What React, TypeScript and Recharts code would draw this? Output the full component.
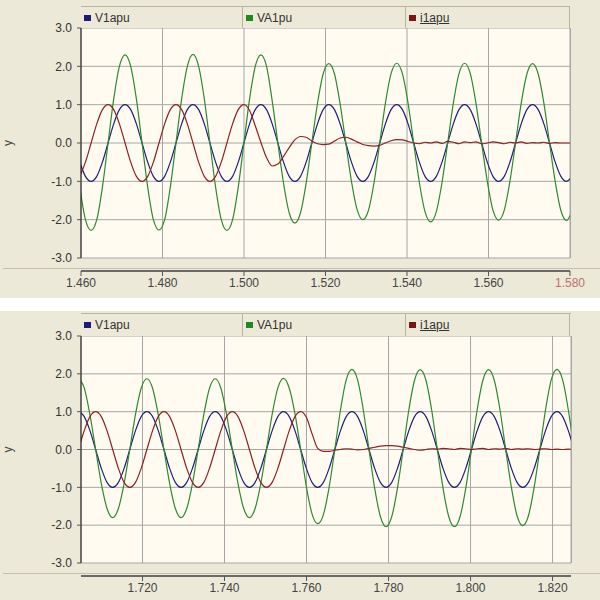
import React from 'react';
import { LineChart, Line, XAxis, YAxis, CartesianGrid, Legend } from 'recharts';

// series shown in both panels
const seriesNames = ['V1apu', 'VA1pu', 'i1apu'];
const seriesColors = ['#1f1f7a', '#2f8a2f', '#8c2222'];
const legendColors = ['#1c1c78', '#1f8a1f', '#7d1414'];
const yTicks = [-3, -2, -1, 0, 1, 2, 3];

// ---- upper panel, time in s ----
const topTicks = [1.46, 1.48, 1.5, 1.52, 1.54, 1.56, 1.58];
const topTime = [
  1.4597, 1.46109, 1.46248, 1.46387, 1.46526, 1.46664, 1.46803, 1.46942, 1.47081, 1.4722, 1.47359, 1.47498,
  1.47637, 1.47776, 1.47914, 1.48053, 1.48192, 1.48331, 1.4847, 1.48609, 1.48748, 1.48887, 1.49026, 1.49164,
  1.49303, 1.49442, 1.49581, 1.4972, 1.49859, 1.49998, 1.50137, 1.50276, 1.50414, 1.50553, 1.50692, 1.50831,
  1.5097, 1.51109, 1.51248, 1.51387, 1.51526, 1.51664, 1.51803, 1.51942, 1.52081, 1.5222, 1.52359, 1.52498,
  1.52637, 1.52776, 1.52914, 1.53053, 1.53192, 1.53331, 1.5347, 1.53609, 1.53748, 1.53887, 1.54026, 1.54164,
  1.54303, 1.54442, 1.54581, 1.5472, 1.54859, 1.54998, 1.55137, 1.55276, 1.55414, 1.55553, 1.55692, 1.55831,
  1.5597, 1.56109, 1.56248, 1.56387, 1.56526, 1.56664, 1.56803, 1.56942, 1.57081, 1.5722, 1.57359, 1.57498,
  1.57637, 1.57776, 1.57914, 1.58053,
];
const topV1 = [
  -0.5, -0.87, -1, -0.87, -0.5, 0, 0.5, 0.87, 1, 0.87, 0.5, 0,
  -0.5, -0.87, -1, -0.87, -0.5, 0, 0.5, 0.87, 1, 0.87, 0.5, 0,
  -0.5, -0.87, -1, -0.87, -0.5, 0, 0.5, 0.87, 1, 0.87, 0.5, 0,
  -0.5, -0.87, -1, -0.87, -0.5, 0, 0.5, 0.87, 1, 0.87, 0.5, 0,
  -0.5, -0.87, -1, -0.87, -0.5, 0, 0.5, 0.87, 1, 0.87, 0.5, 0,
  -0.5, -0.87, -1, -0.87, -0.5, 0, 0.5, 0.87, 1, 0.87, 0.5, 0,
  -0.5, -0.87, -1, -0.87, -0.5, 0, 0.5, 0.87, 1, 0.87, 0.5, 0,
  -0.5, -0.87, -1, -0.87,
];
const topVA1 = [
  -1.15, -2.0, -2.28, -2.0, -1.15, 0, 1.15, 2.0, 2.3, 2.0, 1.15, 0,
  -1.15, -2.0, -2.27, -2.0, -1.15, 0, 1.15, 2.0, 2.31, 2.0, 1.15, 0,
  -1.15, -2.0, -2.28, -2.0, -1.15, 0, 1.15, 2.0, 2.3, 2.0, 1.1, 0,
  -1.05, -1.82, -2.09, -1.82, -1.04, 0, 1.03, 1.8, 2.07, 1.8, 1.02, 0,
  -1.0, -1.74, -2.0, -1.76, -1.03, 0, 1.04, 1.81, 2.08, 1.81, 1.04, 0,
  -1.03, -1.79, -2.06, -1.79, -1.03, 0, 1.04, 1.81, 2.08, 1.81, 1.04, 0,
  -1.0, -1.75, -2.01, -1.75, -1.0, 0, 1.04, 1.8, 2.07, 1.8, 1.04, 0,
  -1.01, -1.76, -2.02, -1.76,
];
const topI1 = [
  -0.87, -0.5, 0, 0.5, 0.87, 1, 0.87, 0.5, 0, -0.5, -0.87, -1,
  -0.87, -0.5, 0, 0.5, 0.87, 1, 0.87, 0.5, 0, -0.5, -0.87, -1,
  -0.87, -0.5, 0, 0.5, 0.87, 1, 0.85, 0.45, 0.02, -0.38, -0.6, -0.55,
  -0.35, -0.12, 0.08, 0.17, 0.15, 0.05, -0.02, -0.04, -0.03, 0.05, 0.13, 0.15,
  0.1, 0.03, -0.04, -0.07, -0.08, -0.06, 0.0, 0.06, 0.09, 0.08, 0.04, 0.0,
  -0.02, 0.02, 0.0, 0.03, -0.01, 0.04, 0.02, -0.02, 0.03, 0.01, 0.03, -0.02,
  0.0, 0.03, 0.01, -0.02, 0.02, 0.0, 0.03, -0.01, 0.01, 0.0, 0.02, -0.01,
  0.01, 0.0, 0.0, 0.0,
];

// ---- lower panel ----
const bottomTicks = [1.72, 1.74, 1.76, 1.78, 1.8, 1.82];
const bottomTime = [
  1.7044, 1.70579, 1.70718, 1.70857, 1.70996, 1.71134, 1.71273, 1.71412, 1.71551, 1.7169, 1.71829, 1.71968,
  1.72107, 1.72246, 1.72384, 1.72523, 1.72662, 1.72801, 1.7294, 1.73079, 1.73218, 1.73357, 1.73496, 1.73634,
  1.73773, 1.73912, 1.74051, 1.7419, 1.74329, 1.74468, 1.74607, 1.74746, 1.74884, 1.75023, 1.75162, 1.75301,
  1.7544, 1.75579, 1.75718, 1.75857, 1.75996, 1.76134, 1.76273, 1.76412, 1.76551, 1.7669, 1.76829, 1.76968,
  1.77107, 1.77246, 1.77384, 1.77523, 1.77662, 1.77801, 1.7794, 1.78079, 1.78218, 1.78357, 1.78496, 1.78634,
  1.78773, 1.78912, 1.79051, 1.7919, 1.79329, 1.79468, 1.79607, 1.79746, 1.79884, 1.80023, 1.80162, 1.80301,
  1.8044, 1.80579, 1.80718, 1.80857, 1.80996, 1.81134, 1.81273, 1.81412, 1.81551, 1.8169, 1.81829, 1.81968,
  1.82107, 1.82246, 1.82384, 1.82523,
];
const bottomV1 = [
  1, 0.87, 0.5, 0, -0.5, -0.87, -1, -0.87, -0.5, 0, 0.5, 0.87,
  1, 0.87, 0.5, 0, -0.5, -0.87, -1, -0.87, -0.5, 0, 0.5, 0.87,
  1, 0.87, 0.5, 0, -0.5, -0.87, -1, -0.87, -0.5, 0, 0.5, 0.87,
  1, 0.87, 0.5, 0, -0.5, -0.87, -1, -0.87, -0.5, 0, 0.5, 0.87,
  1, 0.87, 0.5, 0, -0.5, -0.87, -1, -0.87, -0.5, 0, 0.5, 0.87,
  1, 0.87, 0.5, 0, -0.5, -0.87, -1, -0.87, -0.5, 0, 0.5, 0.87,
  1, 0.87, 0.5, 0, -0.5, -0.87, -1, -0.87, -0.5, 0, 0.5, 0.87,
  1, 0.87, 0.5, 0,
];
const bottomVA1 = [
  1.88, 1.63, 0.92, 0, -0.9, -1.56, -1.8, -1.56, -0.9, 0, 0.93, 1.62,
  1.87, 1.62, 0.92, 0, -0.9, -1.56, -1.8, -1.56, -0.9, 0, 0.93, 1.62,
  1.87, 1.62, 0.92, 0, -0.9, -1.56, -1.8, -1.56, -0.9, 0, 0.93, 1.63,
  1.88, 1.62, 0.95, 0, -0.98, -1.7, -1.96, -1.72, -1.0, 0, 1.05, 1.84,
  2.12, 1.84, 1.05, 0, -1.02, -1.77, -2.04, -1.77, -1.02, 0, 1.05, 1.83,
  2.11, 1.83, 1.05, 0, -1.02, -1.77, -2.04, -1.77, -1.02, 0, 1.05, 1.83,
  2.11, 1.83, 1.05, 0, -1.0, -1.75, -2.01, -1.75, -1.0, 0, 1.05, 1.84,
  2.12, 1.84, 1.05, 0,
];
const bottomI1 = [
  0, 0.5, 0.87, 1, 0.87, 0.5, 0, -0.5, -0.87, -1, -0.87, -0.5,
  0, 0.5, 0.87, 1, 0.87, 0.5, 0, -0.5, -0.87, -1, -0.87, -0.5,
  0, 0.5, 0.87, 1, 0.87, 0.5, 0, -0.5, -0.87, -1, -0.87, -0.5,
  0, 0.5, 0.87, 1, 0.85, 0.42, 0.03, -0.05, -0.05, -0.02, 0.0, 0.02,
  0.01, -0.01, 0.0, 0.03, 0.06, 0.09, 0.1, 0.1, 0.09, 0.06, 0.03, 0.0,
  -0.02, 0.0, 0.02, 0.01, 0.03, 0.02, 0.0, 0.03, 0.02, 0.0, 0.02, 0.03,
  0.0, 0.02, 0.01, 0.03, 0.0, 0.02, 0.01, 0.02, 0.0, 0.01, 0.02, 0.0,
  0.01, 0.0, 0.01, 0.0,
];

const toRows = (time: number[], a: number[], b: number[], c: number[]) =>
  time.map((t, i) => ({ t, [seriesNames[0]]: a[i], [seriesNames[1]]: b[i], [seriesNames[2]]: c[i] }));

const topData = toRows(topTime, topV1, topVA1, topI1);
const bottomData = toRows(bottomTime, bottomV1, bottomVA1, bottomI1);

const FONT = '"Liberation Sans", Arial, sans-serif';
const BEIGE = '#ECE9D8';

const renderLegend = (props: any) => {
  const payload = props.payload || [];
  const widths = [162, 163, 164];
  return (
    <div style={{ display: 'flex', height: '100%', fontFamily: FONT, fontSize: 12, color: '#333' }}>
      {payload.map((entry: any, i: number) => (
        <div
          key={entry.value}
          style={{
            width: widths[i],
            height: '100%',
            boxSizing: 'border-box',
            borderRight: '1px solid #b9b5a2',
            display: 'flex',
            alignItems: 'center',
            paddingLeft: 3,
          }}
        >
          <span style={{ display: 'inline-block', width: 7, height: 6, background: legendColors[i], marginRight: 4 }} />
          <span style={{ textDecoration: i === 2 ? 'underline' : 'none' }}>{entry.value}</span>
        </div>
      ))}
    </div>
  );
};

interface PanelProps {
  top: number;
  height: number;
  legendTop: number;
  plotTop: number;
  plotBottom: number;
  plotRight: number;
  data: any[];
  ticks: number[];
  domain: [number, number];
  highlight?: number;
}

const Panel: React.FC<PanelProps> = ({ top, height, legendTop, plotTop, plotBottom, plotRight, data, ticks, domain, highlight }) => {
  const renderXTick = (p: any) => {
    const v = p.payload.value;
    return (
      <g>
        <line x1={p.x} x2={p.x} y1={p.y + 13} y2={p.y + 18} stroke="#555" />
        <text x={p.x} y={p.y + 29} textAnchor="middle" fontSize={12} fontFamily={FONT} fill={v === highlight ? '#c07070' : '#444'}>
          {v.toFixed(3)}
        </text>
      </g>
    );
  };

  return (
    <div style={{ position: 'absolute', left: 0, top, width: 600, height, background: BEIGE }}>
      <div
        style={{
          position: 'absolute',
          left: 81,
          top: plotTop,
          width: plotRight - 81 + 1,
          height: plotBottom - plotTop,
          background: '#FFFBF0',
          borderRight: '1px solid #a8a8a8',
          boxSizing: 'border-box',
        }}
      />
      <div style={{ position: 'absolute', left: 3, top: plotBottom + 10, width: 597, height: 1, background: '#c4c0ac' }} />
      <div style={{ position: 'absolute', left: 81, top: plotBottom + 12, width: plotRight - 81, height: 2, background: '#6a6a6a' }} />
      <LineChart
        width={600}
        height={height}
        data={data}
        margin={{ top: plotTop, right: 600 - plotRight, bottom: 0, left: 0 }}
      >
        <CartesianGrid stroke="#a6a6a6" />
        <XAxis
          dataKey="t"
          type="number"
          domain={domain}
          ticks={ticks}
          interval={0}
          allowDataOverflow
          axisLine={false}
          tickLine={false}
          tickSize={0}
          tickMargin={0}
          height={height - plotBottom}
          tick={renderXTick}
        />
        <YAxis
          type="number"
          domain={[-3, 3]}
          ticks={yTicks}
          interval={0}
          width={81}
          axisLine={{ stroke: '#111' }}
          tickLine={{ stroke: '#555' }}
          tickSize={4}
          tickMargin={5}
          tickFormatter={(v: number) => v.toFixed(1)}
          tick={{ fontSize: 12, fill: '#333', fontFamily: FONT }}
          label={{ value: 'y', angle: -90, position: 'insideLeft', offset: 8, style: { fontSize: 12, fill: '#444', fontFamily: FONT, textAnchor: 'middle' } }}
        />
        <Legend
          layout="horizontal"
          verticalAlign="middle"
          align="center"
          content={renderLegend}
          wrapperStyle={{ position: 'absolute', left: 81, top: legendTop, width: plotRight - 81, height: plotTop - legendTop - 1, background: BEIGE, borderTop: '1px solid #b9b5a2' }}
        />
        {seriesNames.map((name, i) => (
          <Line
            key={name}
            type="monotone"
            dataKey={name}
            name={name}
            stroke={seriesColors[i]}
            strokeWidth={1.2}
            dot={false}
            isAnimationActive={false}
          />
        ))}
      </LineChart>
    </div>
  );
};

export default function App() {
  return (
    <div style={{ position: 'absolute', left: 0, top: 0, width: 600, height: 600, background: '#fff' }}>
      <Panel top={0} height={298} legendTop={6} plotTop={28} plotBottom={258} plotRight={570} data={topData} ticks={topTicks} domain={[1.46, 1.58]} highlight={1.58} />
      <Panel top={311} height={289} legendTop={2} plotTop={25} plotBottom={252} plotRight={571} data={bottomData} ticks={bottomTicks} domain={[1.705, 1.8245]} />
    </div>
  );
}
